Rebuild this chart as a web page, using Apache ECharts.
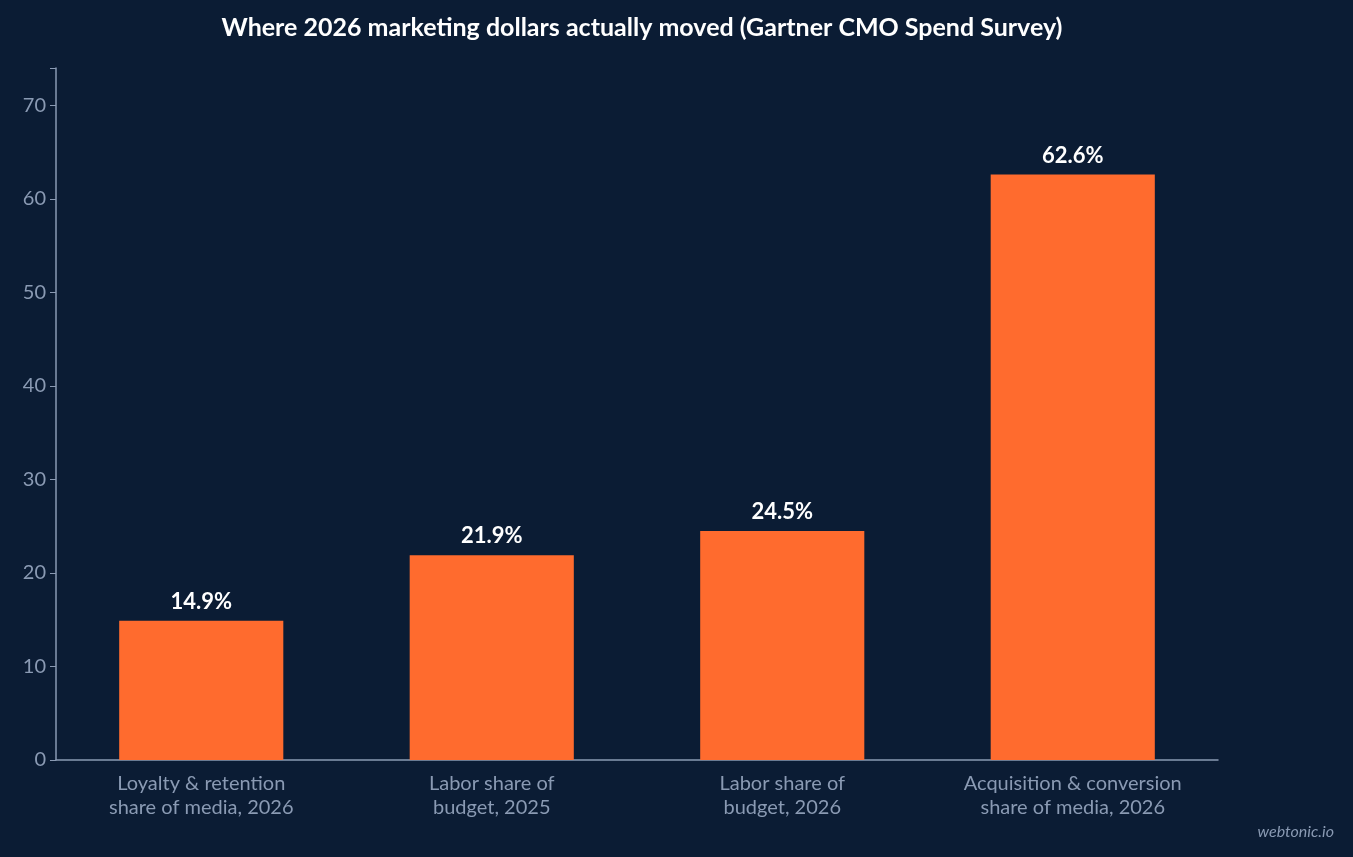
<!DOCTYPE html>
<html><head><meta charset="utf-8">
<script src="https://cdn.jsdelivr.net/npm/echarts@6/dist/echarts.min.js"></script>
<style>html,body{margin:0;background:#0b1c34;}#c{width:1353px;height:857px;}</style>
</head><body><div id="c"></div>
<script>
const categories = ["Loyalty & retention\nshare of media, 2026","Labor share of\nbudget, 2025","Labor share of\nbudget, 2026","Acquisition & conversion\nshare of media, 2026"];
const values = [14.9, 21.9, 24.5, 62.6];
const chart = echarts.init(document.getElementById('c'));
const axisCol = '#8a9ab3';
chart.setOption({
  backgroundColor: '#0b1c34',
  animation: false,
  title: [{text: 'Where 2026 marketing dollars actually moved (Gartner CMO Spend Survey)', left: 637, top: 10, textAlign: 'center',
    textStyle: {color: '#ffffff', fontFamily: 'Lato', fontWeight: 'bold', fontSize: 25}},
    {text: 'webtonic.io', right: 14, bottom: 12, textStyle: {color: '#8a9ab3', fontFamily: 'Lato', fontStyle: 'italic', fontWeight: 'normal', fontSize: 16}}],
  grid: {left: 56, right: 135, top: 68, bottom: 97},
  xAxis: {type: 'category', data: categories,
    axisLine: {lineStyle: {color: axisCol, width: 1.5}}, axisTick: {show: false},
    axisLabel: {color: axisCol, fontFamily: 'Lato', fontSize: 20, lineHeight: 24, margin: 12, interval: 0}},
  yAxis: {type: 'value', min: 0, max: 74, interval: 10, splitLine: {show: false},
    axisLine: {show: true, lineStyle: {color: axisCol, width: 1.5}},
    axisTick: {show: true, length: 6, lineStyle: {color: axisCol}},
    axisLabel: {color: axisCol, fontFamily: 'Lato', fontSize: 20, margin: 10,
      formatter: v => v % 10 === 0 ? v : ''}},
  series: [{type: 'bar', data: values, barWidth: '56.5%',
    itemStyle: {color: '#ff6b2e'},
    label: {show: true, position: 'top', distance: 8, formatter: p => p.value.toFixed(1) + '%',
      color: '#ffffff', fontFamily: 'Lato', fontWeight: 'bold', fontSize: 22}}]
});
</script></body></html>
